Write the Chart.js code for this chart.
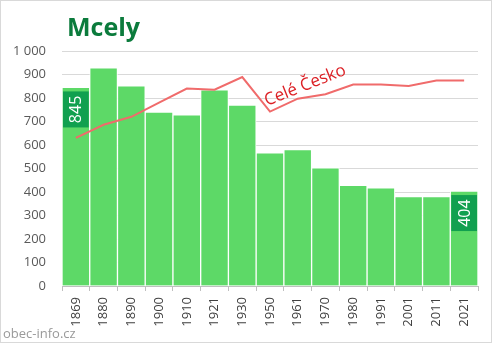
<!DOCTYPE html>
<html lang="cs">
<head>
<meta charset="UTF-8">
<title>Mcely</title>
<script src="https://cdn.jsdelivr.net/npm/chart.js"></script>
<style>
    body { margin: 0; background: #fff; }
    #wrap { width: 492px; height: 343px; position: relative; }
</style>
</head>
<body>
<div id="wrap"><canvas id="chart"></canvas></div>
<script>
// census years and population
var years = ['1869', '1880', '1890', '1900', '1910', '1921', '1930', '1950', '1961', '1970', '1980', '1991', '2001', '2011', '2021'];
var population = [845, 928, 852, 740, 728, 835, 770, 567, 580, 503, 428, 418, 380, 380, 404];
// whole country trend, rescaled onto the same axis
var czechia = [630, 686, 720, 780, 840, 835, 889, 742, 797, 816, 857, 857, 851, 874, 874];
var yTicks = [0, 100, 200, 300, 400, 500, 600, 700, 800, 900, 1000];

var GREEN = '#5dd967';
var DARK = '#11a04f';

// title, watermark, boxed labels, line label, frame
var decor = {
    id: 'decor',
    afterDatasetsDraw: function(chart) {
        var ctx = chart.ctx;
        var bars = chart.getDatasetMeta(1).data;
        [0, bars.length - 1].forEach(function(i) {
            var b = bars[i];
            var w = b.width - 2;
            var top = b.y + 4;
            ctx.save();
            ctx.fillStyle = DARK;
            ctx.fillRect(b.x - w / 2, top, w, 36);
            ctx.translate(b.x, top + 18);
            ctx.rotate(-Math.PI / 2);
            ctx.fillStyle = '#fff';
            ctx.font = '16px "Open Sans"';
            ctx.textAlign = 'center';
            ctx.textBaseline = 'middle';
            ctx.fillText(population[i], 0, 1);
            ctx.restore();
        });

        ctx.save();
        ctx.translate(267, 106);
        ctx.rotate(-0.38);
        ctx.fillStyle = '#dc1f24';
        ctx.font = '17px "Open Sans"';
        ctx.textBaseline = 'alphabetic';
        ctx.fillText('Celé Česko', 0, 0);
        ctx.restore();
    },
    afterDraw: function(chart) {
        var ctx = chart.ctx;
        ctx.save();
        ctx.fillStyle = '#0b7b3c';
        ctx.font = 'bold 25px "Open Sans"';
        ctx.textBaseline = 'alphabetic';
        ctx.fillText('Mcely', 67, 36);

        ctx.fillStyle = '#9a9a9a';
        ctx.font = '13px "Open Sans"';
        ctx.fillText('obec-info.cz', 3, 338);

        ctx.strokeStyle = '#d9d9d9';
        ctx.lineWidth = 1;
        ctx.strokeRect(0.5, 0.5, 491, 342);
        ctx.restore();
    }
};

new Chart(document.getElementById('chart'), {
    type: 'bar',
    data: {
        labels: years,
        datasets: [
            {
                type: 'line',
                label: 'Celé Česko',
                data: czechia,
                borderColor: '#f06b6b',
                borderWidth: 2,
                pointRadius: 0,
                tension: 0,
                order: 0
            },
            {
                label: 'Mcely',
                data: population,
                backgroundColor: GREEN,
                borderColor: '#ffffff',
                borderWidth: 1,
                borderSkipped: 'bottom',
                categoryPercentage: 1,
                barPercentage: 1,
                order: 1
            }
        ]
    },
    options: {
        responsive: true,
        maintainAspectRatio: false,
        animation: false,
        layout: { padding: { top: 51, right: 14, bottom: 0, left: 0 } },
        plugins: {
            legend: { display: false },
            tooltip: { enabled: false }
        },
        scales: {
            x: {
                offset: true,
                grid: {
                    display: true,
                    drawOnChartArea: false,
                    drawTicks: true,
                    tickLength: 5,
                    offset: true,
                    color: '#bfbfbf'
                },
                border: { display: true, color: '#bfbfbf' },
                ticks: {
                    minRotation: 90,
                    maxRotation: 90,
                    autoSkip: false,
                    padding: 6,
                    color: '#404040',
                    font: { family: 'Open Sans', size: 13 }
                },
                afterFit: function(s) { s.height = 57; }
            },
            y: {
                min: 0,
                max: 1000,
                afterBuildTicks: function(s) {
                    s.ticks = yTicks.map(function(v) { return { value: v }; });
                },
                grid: { color: '#d9d9d9', drawTicks: false },
                border: { display: false },
                ticks: {
                    padding: 16,
                    color: '#595959',
                    font: { family: 'Open Sans', size: 13 },
                    callback: function(v) { return v === 1000 ? '1 000' : v; }
                },
                afterFit: function(s) { s.width = 62; }
            }
        }
    },
    plugins: [decor]
});
</script>
</body>
</html>
